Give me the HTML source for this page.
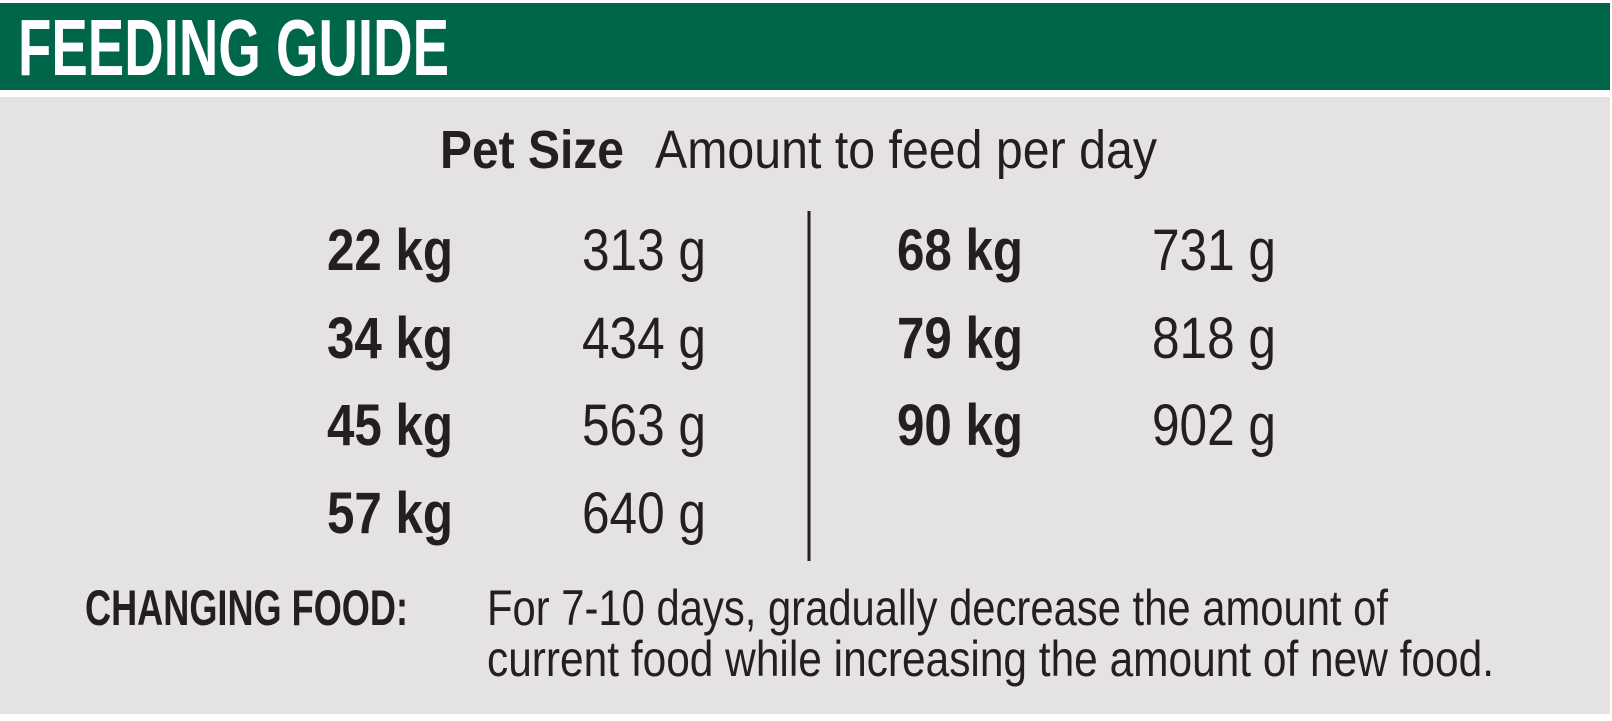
<!DOCTYPE html>
<html><head><meta charset="utf-8"><style>
html,body{margin:0;padding:0;background:#fff;width:1612px;height:721px;overflow:hidden}
svg{display:block}
text{font-family:"Liberation Sans Narrow","Liberation Sans",sans-serif;fill:#231f20}
.b{font-weight:bold}
</style></head><body>
<svg width="1612" height="721">
<rect x="0" y="3" width="1610" height="87" fill="#00664a"/>
<text x="18" y="75" class="b" font-size="80" style="fill:#fff" textLength="431" lengthAdjust="spacingAndGlyphs">FEEDING GUIDE</text>
<rect x="0" y="97" width="1610" height="617" fill="#e4e2e3"/>
<text x="440" y="168" class="b" font-size="54" textLength="184" lengthAdjust="spacingAndGlyphs">Pet Size</text>
<text x="655" y="168" font-size="54" textLength="502" lengthAdjust="spacingAndGlyphs">Amount to feed per day</text>
<g id="rows"></g>
<rect x="807.5" y="211" width="3" height="350" fill="#231f20"/>
<text x="85" y="625" class="b" font-size="50" textLength="323" lengthAdjust="spacingAndGlyphs">CHANGING FOOD:</text>
<text x="487" y="625" font-size="50" textLength="901" lengthAdjust="spacingAndGlyphs">For 7-10 days, gradually decrease the amount of</text>
<text x="487" y="676" font-size="50" textLength="1007" lengthAdjust="spacingAndGlyphs">current food while increasing the amount of new food.</text>
</svg>
<script>
const sizes=["22 kg","34 kg","45 kg","57 kg","68 kg","79 kg","90 kg"];
const amounts=["313 g","434 g","563 g","640 g","731 g","818 g","902 g"];
const g=document.getElementById('rows');
const NS="http://www.w3.org/2000/svg";
const baselines=[270,358,445,533];
sizes.forEach((s,i)=>{
  const col=i<4?0:1, r=i<4?i:i-4;
  const y=baselines[r];
  const t1=document.createElementNS(NS,'text');
  t1.setAttribute('x',col?897:327);t1.setAttribute('y',y);
  t1.setAttribute('class','b');t1.setAttribute('font-size','58');
  t1.setAttribute('textLength','126');t1.setAttribute('lengthAdjust','spacingAndGlyphs');
  t1.textContent=s;
  
  
  g.appendChild(t1);
  const t2=document.createElementNS(NS,'text');
  t2.setAttribute('x',col?1152:582);t2.setAttribute('y',y);
  t2.setAttribute('font-size','58');
  t2.setAttribute('textLength','124');t2.setAttribute('lengthAdjust','spacingAndGlyphs');
  t2.textContent=amounts[i];
  
  
  g.appendChild(t2);
});
</script>
</body></html>
